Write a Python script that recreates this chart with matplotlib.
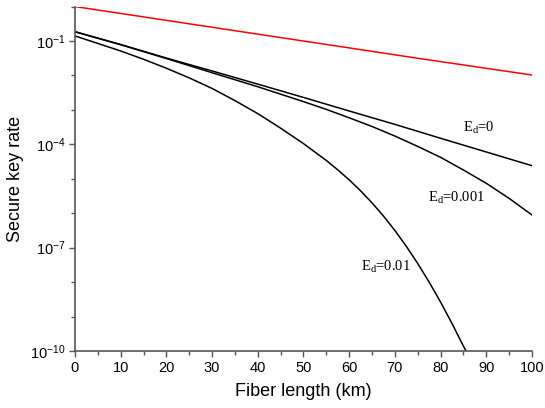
import matplotlib
matplotlib.use('Agg')
import matplotlib.pyplot as plt
from matplotlib.ticker import LogLocator, FixedLocator, MultipleLocator

plt.rcParams['font.family'] = ['Liberation Sans', 'DejaVu Sans']
plt.rcParams['mathtext.default'] = 'regular'

# values (fiber length in km, key rate)
L_red = [0, 25, 50, 75, 100]
R_red = [1.0, 0.316, 0.1, 0.0316, 0.0103]

L_e0 = [0, 10, 20, 30, 40, 50, 60, 70, 80, 90, 100]
R_e0 = [0.186, 0.079, 0.032, 0.0135, 5.6e-3, 2.3e-3, 9.3e-4, 3.8e-4, 1.5e-4, 6.0e-5, 2.4e-5]

L_e001 = [0, 10, 20, 30, 40, 50, 55, 60, 65, 70, 75, 80, 85, 90, 95, 100]
R_e001 = [0.186, 0.078, 0.031, 0.012, 4.7e-3, 1.74e-3, 1.035e-3, 5.9e-4, 3.3e-4,
          1.74e-4, 8.7e-5, 4.2e-5, 1.8e-5, 7.4e-6, 2.7e-6, 8.9e-7]

L_e01 = [0, 5, 10, 15, 20, 25, 30, 35, 40, 45, 50, 55, 57.5, 60, 62.5, 65,
         67.5, 70, 72.5, 75, 77.5, 80, 82.5, 85, 86.2]
R_e01 = [0.140, 0.0851, 0.0513, 0.0295, 0.0162, 8.5e-3, 4.2e-3, 1.86e-3, 7.8e-4,
         2.95e-4, 1.05e-4, 3.4e-5, 1.82e-5, 9.3e-6, 4.47e-6, 2.0e-6,
         8.3e-7, 3.16e-7, 1.10e-7, 3.47e-8, 1.0e-8, 2.63e-9, 6.3e-10,
         1.38e-10, 7.1e-11]

labels = ['E$_\\mathregular{d}$=0', 'E$_\\mathregular{d}$=0.001', 'E$_\\mathregular{d}$=0.01']
label_pos = [(88.4, 3.0e-4), (83.4, 2.8e-6), (68.1, 2.8e-8)]

fig = plt.figure(figsize=(5.45, 4.08), dpi=100)
ax = fig.add_axes([0.1376, 0.1397, 0.8385, 0.8442])

ax.plot(L_red, R_red, color='red', lw=1.1)
ax.plot(L_e0, R_e0, color='black', lw=1.1)
ax.plot(L_e001, R_e001, color='black', lw=1.1)
ax.plot(L_e01, R_e01, color='black', lw=1.1)

ax.set_yscale('log')
ax.set_xlim(0, 100)
ax.set_ylim(1e-10, 1)

ax.xaxis.set_major_locator(MultipleLocator(10))
ax.xaxis.set_minor_locator(MultipleLocator(5))
ax.yaxis.set_major_locator(FixedLocator([1e-10, 1e-7, 1e-4, 1e-1]))
ax.yaxis.set_minor_locator(LogLocator(base=10, subs=(1.0,), numticks=20))
ax.yaxis.set_minor_formatter(plt.NullFormatter())

for s in ['top', 'right']:
    ax.spines[s].set_visible(False)
for s in ['left', 'bottom']:
    ax.spines[s].set_color('#555555')
    ax.spines[s].set_linewidth(1.2)

ax.tick_params(which='major', length=4, width=1, color='#555555', labelsize=10.5, pad=3)
ax.tick_params(which='minor', length=3, width=1, color='#555555')

for txt, (x, y) in zip(labels, label_pos):
    ax.text(x, y, txt, ha='center', va='center', fontsize=10.5,
            family=['Liberation Serif', 'DejaVu Serif'])

ax.set_xlabel('Fiber length (km)', fontsize=13, labelpad=6)
ax.set_ylabel('Secure key rate', fontsize=13, labelpad=4)

fig.savefig('out.png', dpi=100)
